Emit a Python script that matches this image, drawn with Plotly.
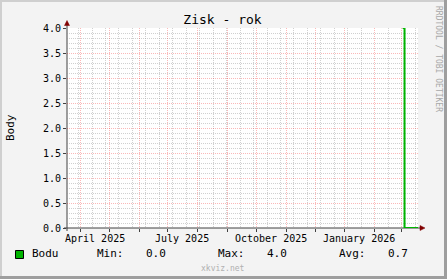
import plotly.graph_objects as go

# ---- data ----
dates = ["2026-03-02", "2026-03-04", "2026-03-18"]
values = [4.0, 0.0, 0.0]
x_start = "2025-03-18"
x_end = "2026-03-18"
label_dates = ["2025-04-16", "2025-07-16", "2025-10-16", "2026-01-16"]
label_text = ["April 2025", "July 2025", "October 2025", "January 2026"]
series_name = "Bodu"
stat_names = ["Min:", "Max:", "Avg:"]
stat_values = ["0.0", "4.0", "0.7"]

W, H = 447, 279
L, R, T, B = 67, 418, 28, 228
PW, PH = R - L, B - T


def px(p):
    return (p - L) / PW


def py(p):
    return (B - p) / PH


MONO = "DejaVu Sans Mono"
GREEN = "#00b400"
AXIS = "#404040"
ARROW = "#800000"
MGRID = "rgba(240,0,0,0.28)"
GRID = "rgba(143,143,143,0.42)"

fig = go.Figure()
fig.add_trace(go.Scatter(x=dates, y=values, mode="lines", line=dict(color=GREEN, width=2, shape="hv"),
                         hoverinfo="skip", showlegend=False))

fig.update_layout(
    width=W, height=H,
    margin=dict(l=L, r=W - R, t=T, b=H - B, pad=0),
    paper_bgcolor="#f3f3f3",
    plot_bgcolor="#ffffff",
    showlegend=False,
    title=dict(text="Zisk - rok", x=222.5 / W, xanchor="center", y=1 - 19.5 / H, yanchor="middle",
               font=dict(family=MONO, size=13, color="black")),
    font=dict(family=MONO, size=10, color="black"),
)

fig.update_xaxes(
    type="date", range=[x_start, x_end], showline=False, zeroline=False,
    tickmode="linear", tick0="2025-04-01", dtick="M1", showticklabels=False,
    showgrid=True, gridcolor=MGRID, griddash="1px,1px", gridwidth=1,
    ticks="outside", ticklen=3, tickcolor=AXIS,
    minor=dict(tickmode="linear", tick0="2025-03-30", dtick=14 * 86400000, showgrid=True,
               gridcolor=GRID, griddash="1px,1px", gridwidth=1, ticks=""),
)
fig.update_yaxes(
    range=[0, 4.0], showline=False, zeroline=False,
    tickmode="linear", tick0=0, dtick=0.5, tickformat=".1f",
    showgrid=True, gridcolor=MGRID, griddash="1px,1px", gridwidth=1,
    ticks="outside", ticklen=3, tickcolor=AXIS,
    tickfont=dict(family=MONO, size=10, color="black"),
    minor=dict(tickmode="linear", tick0=0, dtick=0.1, showgrid=True,
               gridcolor=GRID, griddash="1px,1px", gridwidth=1, ticks=""),
)

shapes = []
# 3D frame
shapes.append(dict(type="rect", xref="paper", yref="paper", x0=px(0), x1=px(W), y0=py(0), y1=py(2),
                   fillcolor="#cfcfcf", line=dict(width=0), layer="above"))
shapes.append(dict(type="rect", xref="paper", yref="paper", x0=px(0), x1=px(2), y0=py(0), y1=py(H),
                   fillcolor="#cfcfcf", line=dict(width=0), layer="above"))
shapes.append(dict(type="rect", xref="paper", yref="paper", x0=px(0), x1=px(W), y0=py(H - 3), y1=py(H),
                   fillcolor="#9e9e9e", line=dict(width=0), layer="above"))
shapes.append(dict(type="rect", xref="paper", yref="paper", x0=px(W - 3), x1=px(W), y0=py(0), y1=py(H),
                   fillcolor="#9e9e9e", line=dict(width=0), layer="above"))
# axes
shapes.append(dict(type="line", xref="paper", yref="paper", x0=px(64), x1=px(421), y0=0, y1=0,
                   line=dict(color=AXIS, width=1), layer="between"))
shapes.append(dict(type="line", xref="paper", yref="paper", x0=0, x1=0, y0=py(231), y1=py(25),
                   line=dict(color=AXIS, width=1), layer="between"))
# arrows
shapes.append(dict(type="path", xref="paper", yref="paper",
                   path=f"M {px(420)} {py(225.5)} L {px(425)} {py(228)} L {px(420)} {py(230.5)} Z",
                   fillcolor=ARROW, line=dict(color=ARROW, width=0.5), layer="above"))
shapes.append(dict(type="path", xref="paper", yref="paper",
                   path=f"M {px(64.5)} {py(25.5)} L {px(67)} {py(20.5)} L {px(69.5)} {py(25.5)} Z",
                   fillcolor=ARROW, line=dict(color=ARROW, width=0.5), layer="above"))
# legend swatch
shapes.append(dict(type="rect", xref="paper", yref="paper", x0=px(15.5), x1=px(23.5), y0=py(250.5), y1=py(258.5),
                   fillcolor=GREEN, line=dict(color="black", width=1), layer="above"))
fig.update_layout(shapes=shapes)

ann = []
for d, t in zip(label_dates, label_text):
    ann.append(dict(x=d, xref="x", y=py(238), yref="paper", text=t, showarrow=False,
                    xanchor="center", yanchor="middle", font=dict(family=MONO, size=10, color="black")))
ann.append(dict(x=px(10), xref="paper", y=py(128), yref="paper", text="Body", textangle=-90, showarrow=False,
                xanchor="center", yanchor="middle", font=dict(family=MONO, size=11, color="black")))
ann.append(dict(x=px(30), xref="paper", y=py(254), yref="paper", text=series_name, showarrow=False,
                xanchor="left", yanchor="middle", font=dict(family=MONO, size=11, color="black")))
name_x = [95, 216, 337]
val_x = [144, 265, 386]
for n, v, nx, vx in zip(stat_names, stat_values, name_x, val_x):
    ann.append(dict(x=px(nx), xref="paper", y=py(254), yref="paper", text=n, showarrow=False,
                    xanchor="left", yanchor="middle", font=dict(family=MONO, size=11, color="black")))
    ann.append(dict(x=px(vx), xref="paper", y=py(254), yref="paper", text=v, showarrow=False,
                    xanchor="left", yanchor="middle", font=dict(family=MONO, size=11, color="black")))
ann.append(dict(x=px(223), xref="paper", y=py(268), yref="paper", text="xkviz.net", showarrow=False,
                xanchor="center", yanchor="middle", font=dict(family=MONO, size=8, color="#b0b0b0")))
ann.append(dict(x=px(439), xref="paper", y=py(59), yref="paper", text="RRDTOOL / TOBI OETIKER", textangle=90,
                showarrow=False, xanchor="center", yanchor="middle",
                font=dict(family=MONO, size=8, color="#a8a8a8")))
fig.update_layout(annotations=ann)

fig.write_html("out.html")
